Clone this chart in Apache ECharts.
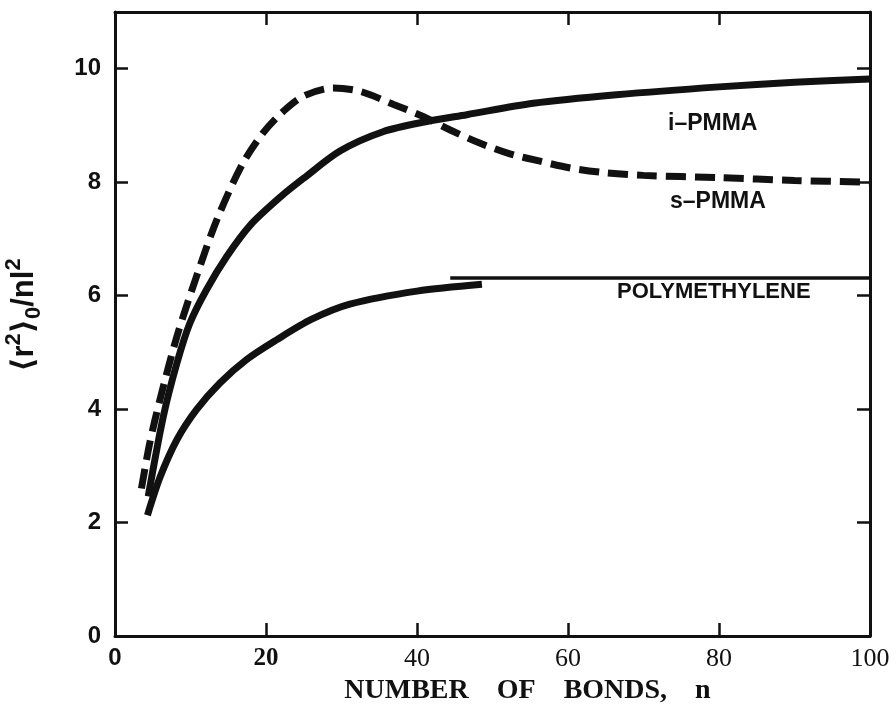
<!DOCTYPE html>
<html><head><meta charset="utf-8">
<script src="https://cdn.jsdelivr.net/npm/echarts@6/dist/echarts.min.js"></script>
<style>html,body{margin:0;padding:0;background:#fff}#c{width:896px;height:709px}</style>
</head><body><div id="c"></div>
<script>
const xTicks = [0, 20, 40, 60, 80, 100];
const yTicks = [0, 2, 4, 6, 8, 10];
const iPMMA = [[4.4,2.46],[6.4,3.87],[8.2,4.81],[9.9,5.51],[12.1,6.10],[14.8,6.69],[17.9,7.24],[22,7.75],[25,8.07],[29.8,8.55],[35.5,8.89],[41.3,9.07],[46.6,9.19],[55.4,9.39],[66.4,9.54],[80,9.68],[90,9.76],[100,9.82]];
const sPMMA = [[3.5,2.6],[4.6,3.4],[6.0,4.19],[8.2,5.28],[10.8,6.34],[13.5,7.34],[16.8,8.3],[19.5,8.85],[22.3,9.25],[25,9.52],[28.9,9.66],[32.5,9.60],[36.9,9.37],[40.8,9.16],[44.4,8.92],[48.3,8.69],[52.3,8.5],[56.3,8.37],[60.3,8.25],[64.7,8.17],[70,8.12],[80,8.08],[90,8.03],[100,8.0]];
const polymethylene = [[4.3,2.13],[6.0,2.81],[8.2,3.46],[10.8,3.99],[13.9,4.46],[17.4,4.87],[21.4,5.22],[26,5.58],[31.1,5.85],[40.0,6.08],[48.6,6.2]];
const polyLimit = [[44.4,6.31],[100,6.31]];
const seriesNames = ['i–PMMA', 's–PMMA', 'POLYMETHYLENE'];
const xTitle = 'NUMBER    OF    BONDS,    n';

const ink = '#111';
const chart = echarts.init(document.getElementById('c'));
const sans = 'Liberation Sans, Arial, DejaVu Sans, sans-serif';
const serif = 'Liberation Serif, Times New Roman, DejaVu Serif, serif';
const tick = {show: true, inside: true, length: 13, lineStyle: {color: ink, width: 2.5}};
chart.setOption({
  animation: false,
  backgroundColor: '#fff',
  grid: {left: 115, right: 26, top: 12, bottom: 73, containLabel: false, outerBoundsMode: 'none'},
  xAxis: [{
    type: 'value', min: 0, max: 100, interval: 20,
    axisLine: {onZero: false, lineStyle: {color: ink, width: 3}},
    axisTick: tick,
    splitLine: {show: false},
    axisLabel: {
      margin: 10,
      formatter: v => v === 0 ? '{a|0}' : (v === 20 ? '{b|20}' : '{c|' + v + '}'),
      rich: {
        a: {fontFamily: sans, fontWeight: 'bold', fontSize: 24, color: ink},
        b: {fontFamily: serif, fontWeight: 'bold', fontSize: 25, color: ink},
        c: {fontFamily: serif, fontSize: 26, color: ink}
      }
    },
    name: xTitle, nameLocation: 'middle', nameGap: 36,
    nameTextStyle: {fontFamily: serif, fontWeight: 'bold', fontSize: 28, color: ink, padding: [0, 0, 0, 70]}
  }, {
    type: 'value', min: 0, max: 100, interval: 20, position: 'top',
    axisLine: {onZero: false, lineStyle: {color: ink, width: 3}},
    axisTick: tick,
    axisLabel: {show: false}, splitLine: {show: false}
  }],
  yAxis: [{
    type: 'value', min: 0, max: 11, interval: 2,
    axisLine: {show: true, onZero: false, lineStyle: {color: ink, width: 3}},
    axisTick: tick,
    splitLine: {show: false},
    axisLabel: {
      margin: 14, fontFamily: sans, fontWeight: 'bold', fontSize: 24, color: ink,
      formatter: v => yTicks.includes(v) ? String(v) : ''
    },
    name: '{a|⟨r}{s|2}{a|⟩}{b|0}{a|/nl}{s|2}',
    nameLocation: 'middle', nameGap: 70, nameRotate: 90,
    nameTextStyle: {
      padding: [0, 0, 0, 18],
      rich: {
        a: {fontFamily: sans, fontWeight: 'bold', fontSize: 31, color: ink, lineHeight: 42, verticalAlign: 'middle'},
        s: {fontFamily: sans, fontWeight: 'bold', fontSize: 22, color: ink, lineHeight: 42, verticalAlign: 'top'},
        b: {fontFamily: sans, fontWeight: 'bold', fontSize: 22, color: ink, lineHeight: 42, verticalAlign: 'bottom'}
      }
    }
  }, {
    type: 'value', min: 0, max: 11, interval: 2, position: 'right',
    axisLine: {show: true, onZero: false, lineStyle: {color: ink, width: 3}},
    axisTick: tick,
    axisLabel: {show: false}, splitLine: {show: false}
  }],
  series: [
    {name: seriesNames[0], type: 'line', data: iPMMA, smooth: 0.3, symbol: 'none',
      lineStyle: {color: ink, width: 7}},
    {name: seriesNames[1], type: 'line', data: sPMMA, smooth: 0.3, symbol: 'none',
      lineStyle: {color: ink, width: 7, type: [20, 9]}},
    {name: seriesNames[2], type: 'line', data: polymethylene, smooth: 0.3, symbol: 'none',
      lineStyle: {color: ink, width: 7}},
    {name: 'limit', type: 'line', data: polyLimit, symbol: 'none',
      lineStyle: {color: ink, width: 3.5}}
  ],
  graphic: [
    {type: 'text', left: 668, top: 112, style: {text: seriesNames[0], font: 'bold 23px ' + sans, fill: ink}},
    {type: 'text', left: 670, top: 190, style: {text: seriesNames[1], font: 'bold 23px ' + sans, fill: ink}},
    {type: 'text', left: 617, top: 281, style: {text: seriesNames[2], font: 'bold 22px ' + sans, fill: ink}}
  ]
});
</script></body></html>
